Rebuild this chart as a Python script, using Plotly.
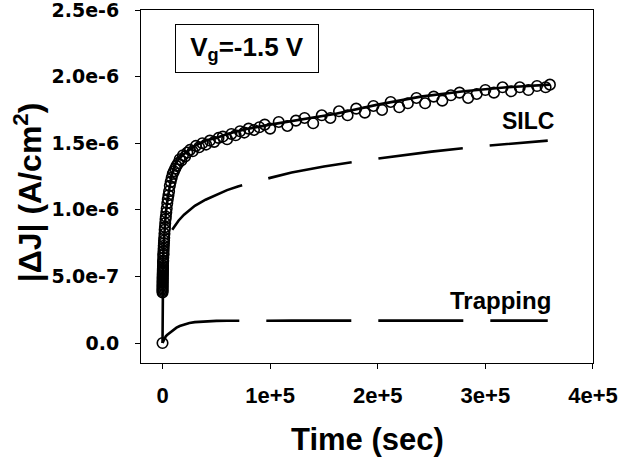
import numpy as np
import plotly.graph_objects as go

SCALE = 1e-6  # values below are in units of 1e-6 A/cm^2

# measured data (open circles)
data_t = [0, 10, 20, 30, 40, 50, 60, 75, 90, 105, 120, 140, 160, 180, 200, 230, 260, 290,
          320, 360, 400, 450, 500, 560, 620, 700, 780, 860, 950, 1050, 1150, 1300, 1450,
          1600, 1800, 2000, 2250, 2500, 2800, 3100, 3500, 3900, 4400, 4900, 5500, 6100,
          6800, 7600, 8500, 9500, 10600, 11800, 13000, 14500, 16000, 17500, 19000, 21000,
          23000, 25500, 28000, 31000, 34000, 37000, 40500, 44000, 48000, 52000, 56000,
          60000, 64000, 68000, 72000, 76000, 80000, 85000, 90000, 95000, 100000, 108000,
          116000, 124000, 132000, 140000, 148000, 156000, 164000, 172000, 180000, 188000,
          196000, 204000, 212000, 220000, 228000, 236000, 244000, 252000, 260000, 268000,
          276000, 284000, 292000, 300000, 308000, 316000, 324000, 332000, 340000, 348000,
          356000, 360000]
data_v = [0.0, 0.38, 0.39, 0.40, 0.41, 0.42, 0.43, 0.44, 0.45, 0.46, 0.47, 0.48, 0.49, 0.50,
          0.51, 0.52, 0.53, 0.54, 0.55, 0.56, 0.57, 0.58, 0.60, 0.61, 0.62, 0.64, 0.66, 0.67,
          0.69, 0.71, 0.73, 0.75, 0.77, 0.79, 0.82, 0.85, 0.87, 0.90, 0.93, 0.95, 0.98, 1.01,
          1.05, 1.08, 1.11, 1.14, 1.18, 1.21, 1.24, 1.27, 1.29, 1.31, 1.33, 1.35, 1.38, 1.37,
          1.41, 1.40, 1.43, 1.45, 1.44, 1.48, 1.47, 1.50, 1.49, 1.52, 1.51, 1.54, 1.55, 1.53,
          1.57, 1.56, 1.59, 1.58, 1.61, 1.60, 1.62, 1.64, 1.61, 1.66, 1.63, 1.67, 1.69, 1.65,
          1.71, 1.69, 1.74, 1.71, 1.76, 1.73, 1.78, 1.75, 1.81, 1.77, 1.80, 1.84, 1.80, 1.85,
          1.82, 1.86, 1.88, 1.84, 1.87, 1.90, 1.88, 1.92, 1.89, 1.92, 1.90, 1.93, 1.92, 1.94]

# fitted total (solid line)
fit_t = [0, 10, 100, 300, 600, 1000, 1500, 2000, 3000, 4000, 5000, 6500, 8000, 10000, 12500,
         15000, 20000, 25000, 30000, 40000, 50000, 60000, 80000, 100000, 130000, 160000,
         200000, 240000, 280000, 320000, 360000]
fit_v = [0.0, 0.38, 0.46, 0.56, 0.65, 0.73, 0.81, 0.87, 0.97, 1.04, 1.10, 1.18, 1.24, 1.30,
         1.35, 1.38, 1.42, 1.45, 1.48, 1.52, 1.54, 1.57, 1.61, 1.64, 1.68, 1.72, 1.79, 1.85,
         1.89, 1.92, 1.94]

# SILC component (dashed)
silc_t = [9000, 12000, 15000, 20000, 25000, 30000, 40000, 50000, 60000, 70000, 85000,
          100000, 120000, 150000, 190000, 250000, 300000, 358000]
silc_v = [0.85, 0.89, 0.92, 0.964, 1.00, 1.03, 1.076, 1.115, 1.148, 1.176, 1.21, 1.24,
          1.28, 1.326, 1.375, 1.437, 1.48, 1.52]

# Trapping component (dashed)
trap_t = [0, 1000, 2000, 3000, 4500, 6000, 8000, 10000, 13000, 16000, 20000, 25000, 30000,
          40000, 50000, 60000, 80000, 120000, 200000, 280000, 358000]
trap_v = [0.0, 0.02, 0.035, 0.05, 0.062, 0.072, 0.088, 0.10, 0.115, 0.128, 0.14, 0.15,
          0.157, 0.163, 0.166, 0.167, 0.168, 0.168, 0.168, 0.168, 0.168]

x_ticks = [0, 1e5, 2e5, 3e5, 4e5]
x_ticktext = ["0", "1e+5", "2e+5", "3e+5", "4e+5"]
y_ticks = [0, 0.5e-6, 1.0e-6, 1.5e-6, 2.0e-6, 2.5e-6]
y_ticktext = ["0.0", "5.0e-7", "1.0e-6", "1.5e-6", "2.0e-6", "2.5e-6"]

FONT = "Liberation Sans, Arial, sans-serif"
TICKFONT = "DejaVu Sans, Liberation Sans, sans-serif"

fig = go.Figure()
fig.add_trace(go.Scatter(x=data_t, y=np.array(data_v) * SCALE, mode="markers",
                         marker=dict(symbol="circle-open", size=10.5, color="black",
                                     line=dict(width=1.6, color="black"))))
fig.add_trace(go.Scatter(x=fit_t, y=np.array(fit_v) * SCALE, mode="lines",
                         line=dict(color="black", width=2.6)))
fig.add_trace(go.Scatter(x=silc_t, y=np.array(silc_v) * SCALE, mode="lines",
                         line=dict(color="black", width=2.6, dash="85px,27px")))
fig.add_trace(go.Scatter(x=trap_t, y=np.array(trap_v) * SCALE, mode="lines",
                         line=dict(color="black", width=2.6, dash="85px,27px")))

axis_common = dict(showgrid=False, zeroline=False, showline=True, linecolor="black",
                   linewidth=1, mirror=True, ticks="outside", ticklen=5, tickwidth=1,
                   tickcolor="black", automargin=False, ticklabeloverflow="allow")

fig.update_xaxes(range=[-2e4, 4.0005e5], tickvals=x_ticks, ticktext=x_ticktext,
                 ticklabelstandoff=8,
                 tickfont=dict(family=FONT, size=22, color="black", weight="bold"),
                 **axis_common)
fig.update_yaxes(range=[-1.5e-7, 2.5005e-6], tickvals=y_ticks, ticktext=y_ticktext,
                 ticklabelstandoff=12,
                 tickfont=dict(family=TICKFONT, size=19, color="black", weight="bold"),
                 **axis_common)

fig.update_layout(
    width=619, height=463,
    margin=dict(l=141, r=26, t=10, b=100),
    paper_bgcolor="white", plot_bgcolor="white",
    showlegend=False,
    annotations=[
        dict(text="V<sub>g</sub>=-1.5 V", xref="x", yref="y", x=0.786e5, y=2.21e-6,
             showarrow=False, font=dict(family=FONT, size=26, color="black", weight="bold"),
             bordercolor="black", borderwidth=1, borderpad=7, width=128, height=33,
             xanchor="center", yanchor="middle"),
        dict(text="SILC", xref="x", yref="y", x=3.395e5, y=1.665e-6, showarrow=False,
             font=dict(family=FONT, size=23, color="black", weight="bold")),
        dict(text="Trapping", xref="x", yref="y", x=3.145e5, y=0.32e-6, showarrow=False,
             font=dict(family=FONT, size=24, color="black", weight="bold")),
        dict(text="Time (sec)", xref="paper", yref="paper", x=0.502, y=-0.218,
             showarrow=False, xanchor="center", yanchor="middle",
             font=dict(family=FONT, size=31, color="black", weight="bold")),
        dict(text="|\u0394J| (A/cm<sup>2</sup>)", xref="paper", yref="paper", x=-0.25, y=0.484,
             showarrow=False, textangle=-90, xanchor="center", yanchor="middle",
             font=dict(family=FONT, size=32, color="black", weight="bold")),
    ],
)

fig.write_html("out.html")
